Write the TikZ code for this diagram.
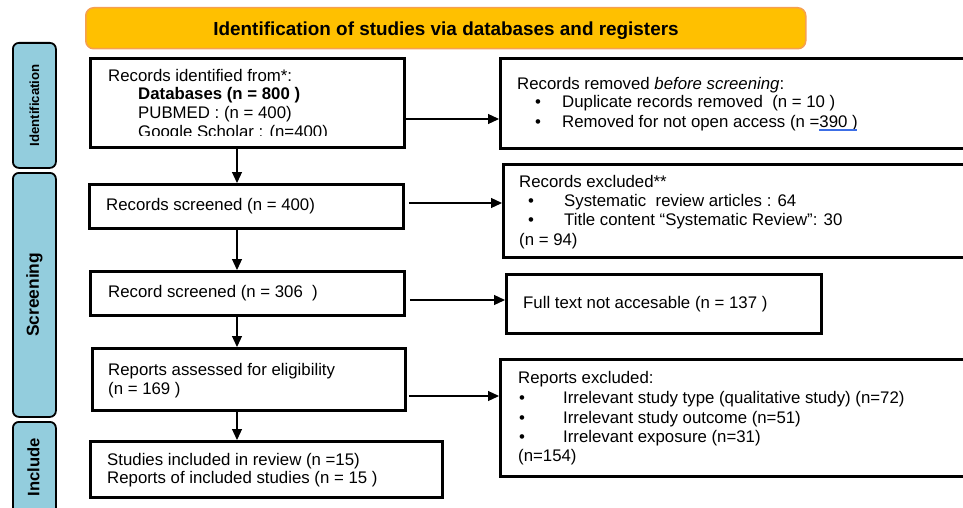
\documentclass[tikz,border=0pt]{standalone}
\usepackage{fontspec}
\setmainfont{Liberation Sans}
\usetikzlibrary{arrows.meta}
\definecolor{titlefill}{RGB}{255,192,0}
\definecolor{titleline}{RGB}{245,160,80}
\definecolor{phasefill}{RGB}{147,205,221}
\definecolor{ulblue}{RGB}{60,110,230}
\newcommand\bodyfont{\fontsize{16.8}{19.4}\selectfont}

\begin{document}
\begin{tikzpicture}[x=1pt,y=-1pt,
  flowbox/.style={draw=black, line width=2.8pt, fill=white, inner sep=0pt, anchor=north west},
  phasebox/.style={draw=black, line width=1.8pt, fill=phasefill, rounded corners=6pt, inner sep=0pt, anchor=north west},
  txtline/.style={anchor=base west, inner sep=0pt, font=\bodyfont},
  bulletmark/.style={anchor=base, inner sep=0pt, font=\bodyfont},
  arr/.style={line width=1.2pt, -{Triangle[length=11pt,width=10pt]}},
  phaselabel/.style={rotate=90, inner sep=0pt}
]
\useasboundingbox (0,0) rectangle (963,508);
\clip (0,0) rectangle (963,508);
\fill[white] (0,0) rectangle (963,508);

% header
\node[draw=titleline, line width=1.5pt, fill=titlefill, rounded corners=8pt, inner sep=0pt,
      anchor=north west, minimum width=720, minimum height=41] (title) at (85,7) {};
\node[anchor=base, inner sep=0pt, font=\fontsize{18.9}{22}\selectfont\bfseries] (titletext) at (446,36)
  {Identification of studies via databases and registers};

% phase labels on the left
\node[phasebox, minimum width=43, minimum height=125] (pid) at (12,42) {};
\node[phaselabel, font=\fontsize{13.2}{15}\selectfont\bfseries] (pidt) at (pid.center) {Identification};
\node[phasebox, minimum width=43, minimum height=244] (pscr) at (12,172) {};
\node[phaselabel, font=\fontsize{17.4}{20}\selectfont\bfseries] (pscrt) at (pscr.center) {Screening};
\node[phasebox, minimum width=43, minimum height=140] (pinc) at (12,421) {};
\node[phaselabel, font=\fontsize{16.6}{19}\selectfont\bfseries] (pinct) at (33.5,467) {Include};

% main column
\node[flowbox, minimum width=314, minimum height=89] (b1) at (89,57) {};
\node[txtline] (b1a) at (108,82) {Records identified from*:};
\node[txtline] (b1b) at (138,100) {\bfseries Databases (n = 800~)};
\node[txtline] (b1c) at (138,118) {PUBMED : (n = 400)};
\begin{scope}
  \clip (89,57) rectangle (403,135.5);
  \node[txtline] (b1d) at (138,137) {Google Scholar : (n=400)};
\end{scope}

\node[flowbox, minimum width=314, minimum height=44] (b2) at (88,183) {};
\node[txtline] (b2a) at (106,210) {Records screened (n = 400)};

\node[flowbox, minimum width=314, minimum height=44] (b3) at (89,270) {};
\node[txtline] (b3a) at (108,297) {Record screened (n = 306\ \ )};

\node[flowbox, minimum width=313, minimum height=62] (b4) at (91,347) {};
\node[txtline] (b4a) at (108,375) {Reports assessed for eligibility};
\node[txtline] (b4b) at (108,394) {(n = 169~)};

\node[flowbox, minimum width=352, minimum height=56] (b5) at (89,440) {};
\node[txtline] (b5a) at (107,465) {Studies included in review (n =15)};
\node[txtline] (b5b) at (107,483) {Reports of included studies (n = 15~)};

% exclusion column
\node[flowbox, minimum width=520, minimum height=90] (rA) at (499,57) {};
\node[txtline] (rA1) at (517,90) {Records removed \textit{before screening}:};
\node[bulletmark] (rAd1) at (538,108) {•};
\node[txtline] (rA2) at (562,108) {Duplicate records removed\ \ (n = 10~)};
\node[bulletmark] (rAd2) at (538,128) {•};
\node[txtline] (rA3) at (562,128) {Removed for not open access (n =390~)};
% blue underline under the last count
\draw[ulblue, line width=1.1pt] (819,130) -- (857,130);

\node[flowbox, minimum width=520, minimum height=93] (rB) at (502,163) {};
\node[txtline] (rB1) at (519,187) {Records excluded**};
\node[bulletmark] (rBd1) at (531,206) {•};
\node[txtline] (rB2) at (564,206) {Systematic\ \ review articles : 64};
\node[bulletmark] (rBd2) at (531,225) {•};
\node[txtline] (rB3) at (564,225) {Title content “Systematic Review”: 30};
\node[txtline] (rB4) at (519,245) {(n = 94)};

\node[flowbox, minimum width=315, minimum height=59] (rC) at (505,273) {};
\node[txtline] (rC1) at (523,308.5) {Full text not accesable (n = 137~)};

\node[flowbox, minimum width=520, minimum height=117] (rD) at (499,358) {};
\node[txtline] (rD1) at (518,383) {Reports excluded:};
\node[bulletmark] (rDd1) at (522,403) {•};
\node[txtline] (rD2) at (563,403) {Irrelevant study type (qualitative study) (n=72)};
\node[bulletmark] (rDd2) at (522,423) {•};
\node[txtline] (rD3) at (563,423) {Irrelevant study outcome (n=51)};
\node[bulletmark] (rDd3) at (522,442) {•};
\node[txtline] (rD4) at (563,442) {Irrelevant exposure (n=31)};
\node[txtline] (rD5) at (518,461) {(n=154)};

% connectors
\coordinate (col) at (237,0);
\draw[arr] (b1.south -| col) -- (b2.north -| col);
\draw[arr] (b2.south -| col) -- (b3.north -| col);
\draw[arr] (b3.south -| col) -- (b4.north -| col);
\draw[arr] (b4.south -| col) -- (b5.north -| col);

\coordinate (h1) at (0,119);
\coordinate (h2) at (0,203);
\coordinate (h3) at (0,300);
\coordinate (h4) at (0,396);
\draw[arr] (b1.east |- h1) -- (rA.west |- h1);
\draw[arr] ([xshift=4pt]b2.east |- h2) -- (rB.west |- h2);
\draw[arr] ([xshift=4pt]b3.east |- h3) -- (rC.west |- h3);
\draw[arr] ([xshift=2pt]b4.east |- h4) -- (rD.west |- h4);
\end{tikzpicture}
\end{document}
